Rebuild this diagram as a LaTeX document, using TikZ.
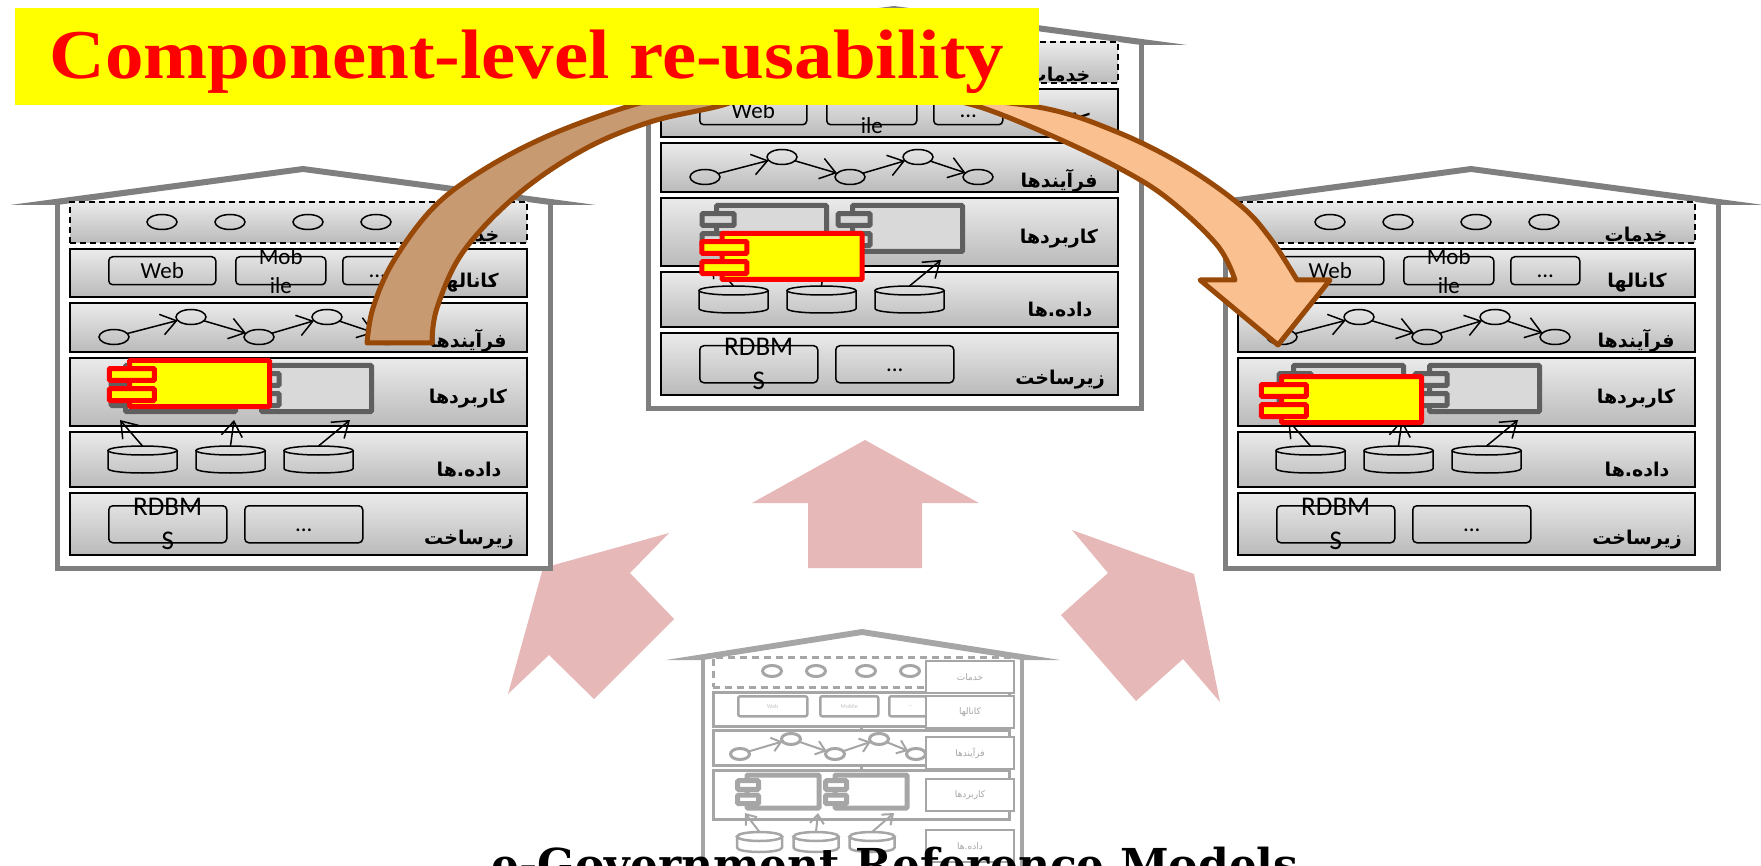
\documentclass[tikz,border=0pt]{standalone}
\usepackage{fontspec}
\usepackage{xcolor}
\setmainfont{Carlito}
\newfontfamily\farsifont[Script=Arabic]{DejaVu Sans}
\newfontfamily\titlefont{Liberation Serif}
\newfontfamily\captionfont{DejaVu Serif}
\TeXXeTstate=1
\usetikzlibrary{calc, positioning, arrows.meta, shapes.geometric}
\newcommand{\fa}[1]{{\farsifont\bfseries\beginR #1\endR}}
\newcommand{\fal}[1]{{\farsifont\beginR #1\endR}}
\definecolor{wallgray}{HTML}{7F7F7F}
\definecolor{compgray}{HTML}{5F5F5F}
\definecolor{compfill}{HTML}{D9D9D9}
\definecolor{fadegray}{HTML}{A6A6A6}
\definecolor{pinkarrow}{HTML}{E6B8B7}
\definecolor{brownline}{HTML}{984807}
\definecolor{tanfill}{HTML}{C89A72}
\definecolor{peachfill}{HTML}{FAC090}
\definecolor{pureyellow}{RGB}{255,255,0}
\definecolor{purered}{RGB}{255,0,0}
\tikzset{
	x=1pt,
	y=-1pt,
	>={Straight Barb[length=15pt,width=21pt]},
	layer/.style={
		draw,
		anchor=north west,
		line width=2pt,
		top color=black!8,
		bottom color=black!27,
		minimum width=457pt,
		inner sep=0pt,
		outer sep=0pt
	},
	service/.style={
		draw,
		ellipse,
		line width=1.5pt,
		minimum width=30pt,
		minimum height=15pt,
		inner sep=0pt,
		outer sep=0pt
	},
	pill/.style={
		draw,
		anchor=north west,
		rounded corners=4pt,
		line width=1.5pt,
		inner sep=0pt
	},
	pill text/.style={
		align=center,
		inner sep=0pt,
		font=\fontsize{23}{29}\selectfont
	},
	edge/.style={
		->,
		line width=1.5pt
	},
	comp/.style={
		draw,
		anchor=north west,
		line width=5pt,
		rounded corners=1pt,
		inner sep=0pt,
		outer sep=0pt
	},
	pinkblock/.style={
		fill=pinkarrow,
		draw=none
	},
	bentarrow/.style={
		draw=brownline,
		line width=5pt,
		line join=round
	},
	fade/.style={
		draw=fadegray,
		line width=2.5pt
	},
	fade box/.style={
		fade,
		fill=white,
		anchor=north west,
		inner sep=0pt,
		outer sep=0pt,
		minimum width=88pt,
		minimum height=32pt,
		text=fadegray,
		font=\fontsize{9}{10}\selectfont
	},
	fade oval/.style={
		fade,
		ellipse,
		line width=3pt,
		minimum width=19pt,
		minimum height=11pt,
		inner sep=0pt,
		outer sep=0pt
	},
	fade pill/.style={
		fade,
		anchor=north west,
		rounded corners=2pt,
		minimum height=20pt,
		inner sep=0pt,
		text=fadegray!70,
		font=\fontsize{6}{7}\selectfont
	},
	fade edge/.style={
		->,
		draw=fadegray,
		line width=2pt,
		>={Straight Barb[length=9pt,width=14pt]}
	},
	pics/drum/.style n args={4}{code={
		\node[inner sep=0pt, outer sep=0pt, minimum width=#2pt, minimum height=#3pt] (box) at (0,0) {};
		\draw[draw=#1, line width=#4pt] (-#2/2,-#3/2+4.5) -- (-#2/2,#3/2-4.5)
			.. controls (-#2/2,#3/2+1.5) and (#2/2,#3/2+1.5) .. (#2/2,#3/2-4.5) -- (#2/2,-#3/2+4.5);
		\draw[draw=#1, line width=#4pt] (0,-#3/2+4.5) ellipse [x radius=#2/2, y radius=4.5];
	}},
	pics/component/.style n args={5}{code={
		\pgfmathsetmacro{\tabx}{-.45*#4}
		\pgfmathsetmacro{\tabh}{.26*#5}
		\pgfmathsetmacro{\taba}{.174*#5}
		\pgfmathsetmacro{\tabb}{.61*#5}
		\node[comp, draw=#1, fill=#2, minimum width=#3pt, minimum height=#5pt] (body) at (0,0) {};
		\node[comp, draw=#1, fill=#2, minimum width=#4pt, minimum height=\tabh pt] (tab1) at (\tabx,\taba) {};
		\node[comp, draw=#1, fill=#2, minimum width=#4pt, minimum height=\tabh pt] (tab2) at (\tabx,\tabb) {};
	}},
	pics/house/.style={code={
		% ---
		% Walls and roof
		% ---
		\fill[wallgray] (-60,3) -- (233,-36) -- (526,3) -- (480,3) -- (233,-30) -- (-13,3) -- cycle;
		\draw[draw=wallgray, line width=5pt] (-13,0) -- (-13,366) -- (480,366) -- (480,0);
		% ---
		% Layers
		% ---
		\node[layer, dash pattern=on 6pt off 4pt, minimum height=41pt] (services) at (0,0) {};
		\foreach \lname/\ly/\lh in {channels/47/48,processes/101/49,apps/156/68,datas/230/55,infra/291/62} {
			\node[layer, minimum height=\lh pt] (\lname) at (0,\ly) {};
		}
		\foreach \lx/\ly/\ltxt in {398/33/خدمات,399/81/کانالها,398/139/فرآیندها,398/197/کاربردها,399/268/داده.ها,399/338/زیرساخت} {
			\node[font=\fontsize{19}{22}\selectfont, inner sep=0pt] (label-\lx-\ly) at (\lx,\ly) {\fa{\ltxt}};
		}
		% ---
		% Services
		% ---
		\foreach \i/\sx in {1/92,2/160,3/238,4/306} {
			\node[service] (s\i) at (\sx,20) {};
		}
		% ---
		% Channels
		% ---
		\node[pill, minimum width=107pt, minimum height=28pt] (web) at (38,54) {};
		\node[pill, minimum width=90pt, minimum height=28pt] (mobile) at (165,54) {};
		\node[pill, minimum width=69pt, minimum height=28pt] (more) at (272,54) {};
		\node[pill text] (web-text) at (web.center) {Web};
		\node[pill text] (mobile-text) at (mobile.center) {Mob\\ile};
		\node[pill text] (more-text) at ($(more.center)+(0,6)$) {...};
		% ---
		% Process chain
		% ---
		\foreach \i/\px/\py in {1/44/135,2/121/115,3/189/135,4/257/115,5/317/135} {
			\node[service] (p\i) at (\px,\py) {};
		}
		\foreach \i in {1,2,3,4} {
			\pgfmathtruncatemacro{\next}{\i + 1}
			\draw[edge] (p\i) to (p\next);
		}
		% ---
		% Applications
		% ---
		\pic (c1) at (55.5,163.5) {component={compgray}{compfill}{110}{32}{46}};
		\pic (c2) at (191.5,163.5) {component={compgray}{compfill}{110}{32}{46}};
		% ---
		% Data stores
		% ---
		\foreach \i/\dx/\tx in {1/72.5/50,2/160.5/164,3/248.5/280} {
			\pic (d\i-) at (\dx,257.5) {drum={black}{69}{27}{1.5}};
			\coordinate (t\i) at (\tx,218);
			\draw[edge] (d\i-box.north) to (t\i);
		}
		% ---
		% Infrastructure
		% ---
		\node[pill, minimum width=118pt, minimum height=37pt] (rdbms) at (38,303) {};
		\node[pill, minimum width=118pt, minimum height=37pt] (etc) at (174,303) {};
		\node[pill text, font=\fontsize{27}{34}\selectfont] (rdbms-text) at (rdbms.center) {RDBM\\S};
		\node[pill text] (etc-text) at ($(etc.center)+(0,6)$) {...};
	}}
}

\begin{document}
\begin{tikzpicture}
	\path[use as bounding box, clip] (0,0) rectangle (1761,866);

	% ---
	% Big arrows
	% ---
	\fill[pinkblock] (865,440) -- (979,503) -- (922,503) -- (922,568) -- (808,568) -- (808,503) -- (752,503) -- cycle;
	\fill[pinkblock] (669,533) -- (543,568) -- (508,694) -- (549,655) -- (594,699) -- (674,619) -- (630,573) -- cycle;
	\fill[pinkblock] (1072,530) -- (1194,574) -- (1220,702) -- (1183,659) -- (1136,701) -- (1061,615) -- (1108,573) -- cycle;

	% ---
	% Faded model
	% ---
	\fill[fadegray] (666,660) -- (862,629) -- (1060,660) -- (1022,660) -- (862,635) -- (703,660) -- cycle;
	\draw[fade, line width=4pt] (703,658) -- (703,866) (1022,658) -- (1022,866);
	\node[fade, dash pattern=on 7pt off 5pt, anchor=north west, inner sep=0pt, minimum width=296pt, minimum height=30pt] (bservices) at (712,656) {};
	\foreach \lname/\ly/\lh in {bchannels/691/34,bprocesses/729/35,bapps/769/49} {
		\node[fade, anchor=north west, inner sep=0pt, minimum width=296pt, minimum height=\lh pt] (\lname) at (712,\ly) {};
	}
	\draw[fade] (bchannels.south) -- (bprocesses.north) (bprocesses.south) -- (bapps.north);
	\foreach \i/\sx in {1/772,2/816,3/866,4/910} {
		\node[fade oval] (bs\i) at (\sx,671) {};
	}
	\node[fade pill, minimum width=69pt] (bweb) at (737,695) {Web};
	\node[fade pill, minimum width=58pt] (bmobile) at (819,695) {Mobile};
	\node[fade pill, minimum width=42pt] (bmore) at (888,695) {...};
	\foreach \i/\px/\py in {1/740/754,2/791/739,3/835/754,4/879/739,5/916/754} {
		\node[fade oval] (bp\i) at (\px,\py) {};
	}
	\foreach \i in {1,2,3,4} {
		\pgfmathtruncatemacro{\next}{\i + 1}
		\draw[fade edge] (bp\i) to (bp\next);
	}
	\pic (bc1) at (747,775) {component={fadegray}{white}{72}{21}{33}};
	\pic (bc2) at (835,775) {component={fadegray}{white}{72}{21}{33}};
	\foreach \i/\dx/\tx in {1/759.5/745,2/816/818,3/872/894} {
		\pic (bd\i-) at (\dx,842) {drum={fadegray}{45}{20}{2.5}};
		\coordinate (bt\i) at (\tx,813);
		\draw[fade edge] (bd\i-box.north) to (bt\i);
	}
	\foreach \ly/\ltxt in {661/خدمات,696/کانالها,737/فرآیندها,779/کاربردها,830/داده.ها} {
		\node[fade box] (bl\ly) at (926,\ly) {\fal{\ltxt}};
	}

	% ---
	% Houses
	% ---
	\pic (left) at (70,202) {house};
	\pic (mid) at (661,42) {house};
	\pic (right) at (1238,202) {house};

	\node[font=\captionfont\bfseries\fontsize{44}{50}\selectfont, anchor=base] (caption) at (895,880) {e-Government Reference Models};

	% ---
	% Bent arrows
	% ---
	\draw[bentarrow, fill=tanfill] plot[smooth, tension=.6] coordinates {(367,343) (373,308) (393,262) (433,208) (483,170) (550,135) (633,105) (700,90)}
		-- plot[smooth, tension=.6] coordinates {(760,90) (723,105) (650,122) (583,150) (517,195) (463,252) (437,308) (432,343)} -- cycle;
	\draw[bentarrow, fill=peachfill] plot[smooth, tension=.6] coordinates {(930,95) (1043,108) (1117,132) (1183,165) (1240,205) (1270,238) (1297,280)}
		-- (1330,280) -- (1278,345) -- (1200,280) -- (1235,280)
		-- plot[smooth, tension=.6] coordinates {(1235,280) (1217,245) (1167,198) (1117,167) (1050,135) (983,108) (930,95)} -- cycle;

	% ---
	% Re-used component
	% ---
	\pic (yleft) at (129.5,360.5) {component={purered}{pureyellow}{140}{45}{46}};
	\pic (ymid) at (722,233.5) {component={purered}{pureyellow}{140}{45}{46}};
	\pic (yright) at (1281.5,376.5) {component={purered}{pureyellow}{140}{45}{46}};

	\node[fill=pureyellow, anchor=north west, minimum width=1024pt, minimum height=97pt, inner sep=0pt] (title) at (15,8) {};
	\node[anchor=base, inner sep=0pt, text=purered, font=\titlefont\bfseries\fontsize{70}{80}\selectfont] (title-text) at (527,79) {\scalebox{1.1}[1]{Component-level re-usability}};
\end{tikzpicture}
\end{document}
